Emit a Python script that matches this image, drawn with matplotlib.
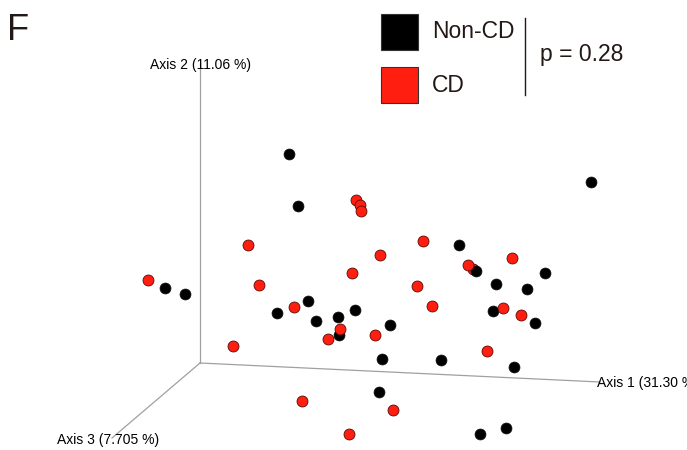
import matplotlib
matplotlib.use("Agg")
import matplotlib.pyplot as plt
from matplotlib.patches import Rectangle

plt.rcParams['font.family'] = ['Liberation Sans', 'DejaVu Sans']

# projected PCoA coordinates (screen plane of the 3D view)
non_cd_x = [289, 298, 591, 165, 185, 277, 308, 316, 338, 355, 339, 390, 382, 441,
            459, 476, 496, 545, 527, 493, 535, 514, 379, 480, 506]
non_cd_y = [154, 206, 182, 288, 294, 313, 301, 321, 317, 310, 335, 325, 359, 360,
            245, 271, 284, 273, 289, 311, 323, 367, 392, 434, 428]

cd_x = [148, 248, 259, 294, 233, 356, 360, 361, 380, 352, 423, 468, 473, 512,
        417, 432, 503, 521, 340, 328, 375, 487, 302, 393, 349]
cd_y = [280, 245, 285, 307, 346, 200, 205, 211, 255, 273, 241, 265, 269, 258,
        286, 306, 308, 315, 329, 339, 335, 351, 401, 410, 434]
cd_hidden = [12]  # CD sample sitting behind a Non-CD one in the 3D view

groups = ['Non-CD', 'CD']
colors = ['#000000', '#ff1e0f']
p_value = 0.28

# axis endpoints of the projected 3D frame
origin = (200, 363)
axis_ends = {'Axis 1 (31.30 %)': (600, 382),
             'Axis 2 (11.06 %)': (200, 64),
             'Axis 3 (7.705 %)': (112, 438)}

fig = plt.figure(figsize=(6.87, 4.5), dpi=100)
ax = fig.add_axes([0, 0, 1, 1])
ax.set_xlim(0, 687)
ax.set_ylim(450, 0)
ax.axis('off')

for name, end in axis_ends.items():
    ax.plot([origin[0], end[0]], [origin[1], end[1]], color='#a0a0a0', lw=0.9, zorder=1)

ax.text(201, 65, 'Axis 2 (11.06 %)', fontsize=10, ha='center', va='center', zorder=2)
ax.text(597, 383, 'Axis 1 (31.30 %)', fontsize=10, ha='left', va='center', zorder=2)
ax.text(108, 440, 'Axis 3 (7.705 %)', fontsize=10, ha='center', va='center', zorder=2)

back_x = [cd_x[i] for i in cd_hidden]
back_y = [cd_y[i] for i in cd_hidden]
front_x = [v for i, v in enumerate(cd_x) if i not in cd_hidden]
front_y = [v for i, v in enumerate(cd_y) if i not in cd_hidden]

ax.scatter(back_x, back_y, s=62, c=colors[1], edgecolors='#5a0a05', linewidths=0.6, zorder=3)
ax.scatter(non_cd_x, non_cd_y, s=62, c=colors[0], edgecolors='#111111', linewidths=0.5, zorder=4)
ax.scatter(front_x, front_y, s=62, c=colors[1], edgecolors='#5a0a05', linewidths=0.6, zorder=5)

# legend
ax.add_patch(Rectangle((381, 14), 37, 36, facecolor=colors[0], edgecolor='#333333', lw=0.8))
ax.add_patch(Rectangle((381, 67), 37, 36, facecolor=colors[1], edgecolor='#333333', lw=0.8))
ax.text(432, 31, groups[0], fontsize=16.5, ha='left', va='center', color='#231815')
ax.text(432, 86, groups[1], fontsize=16.5, ha='left', va='center', color='#231815')
ax.plot([525, 525], [18, 95], color='#231815', lw=1.0)
ax.text(540, 55, f'p = {p_value}', fontsize=16.5, ha='left', va='center', color='#231815')

ax.text(7, 30, 'F', fontsize=26, ha='left', va='center', color='#231815')

fig.savefig('out.png', dpi=100, facecolor='white')
